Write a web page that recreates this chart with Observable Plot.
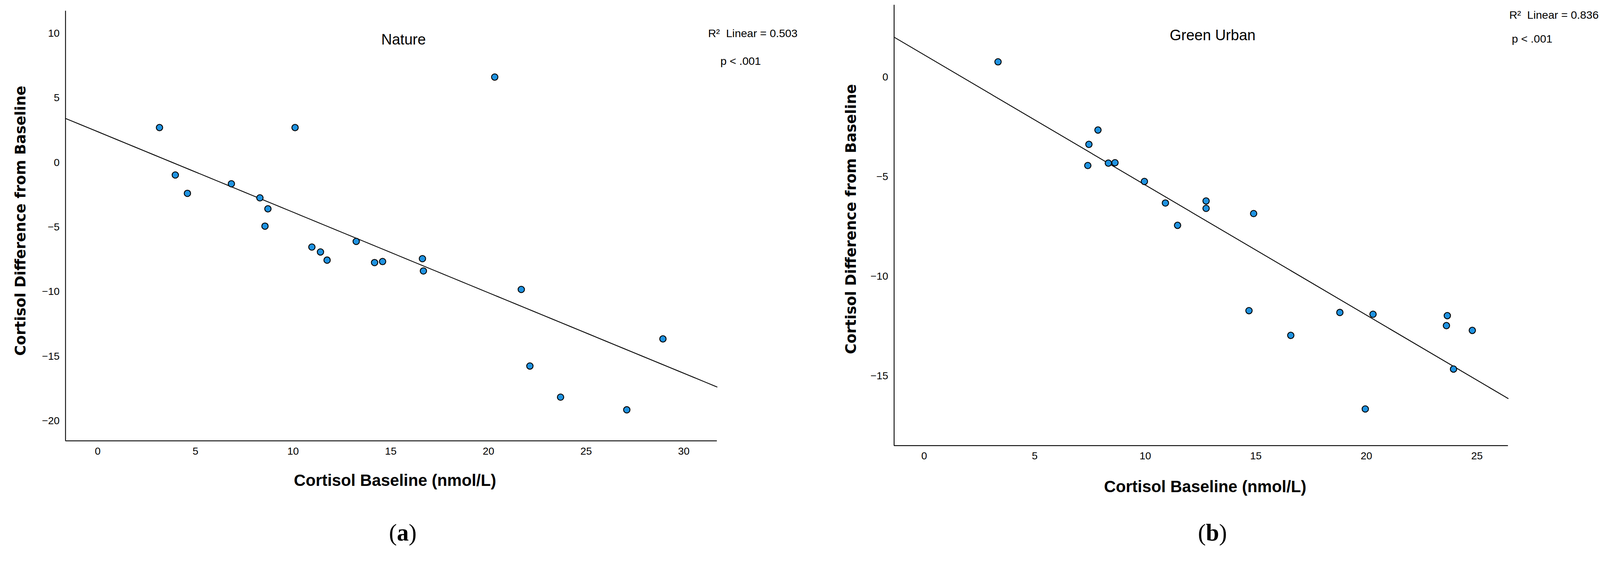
<!DOCTYPE html>
<html>
<head>
<meta charset="utf-8">
<script src="https://cdn.jsdelivr.net/npm/d3@7"></script>
<script src="https://cdn.jsdelivr.net/npm/@observablehq/plot@0.6"></script>
<style>
  html, body { margin: 0; padding: 0; background: #fff; overflow: hidden; }
  #wrap { position: relative; width: 4310px; height: 1490px; background: #fff; overflow: hidden; transform-origin: 0 0; }
  .panel { position: absolute; top: 0; width: 2155px; height: 1490px; }
  .panel svg { display: block; overflow: visible; max-width: none !important; }
  .cap { position: absolute; font-family: "Liberation Serif", "DejaVu Serif", serif; font-size: 64px; line-height: 1; transform: translate(-50%, -50%); white-space: nowrap; }
</style>
</head>
<body>
<div id="wrap">
  <div class="panel" id="pa"></div>
  <div class="panel" id="pb" style="left:2155px"></div>
</div>
<script>
// ---- Data ----
const natureBaseline = [3.16, 3.97, 4.59, 6.84, 8.30, 8.71, 8.56, 10.10, 10.96, 11.40, 11.74, 13.23, 14.17, 14.58, 16.62, 16.67, 20.32, 21.68, 22.12, 23.69, 27.08, 28.93];
const natureDiff     = [2.71, -0.96, -2.38, -1.64, -2.73, -3.58, -4.92, 2.71, -6.54, -6.92, -7.55, -6.10, -7.74, -7.66, -7.44, -8.39, 6.62, -9.82, -15.75, -18.16, -19.14, -13.65];

const greenBaseline = [3.34, 7.86, 7.45, 7.40, 8.33, 8.63, 9.96, 10.91, 12.75, 12.75, 11.46, 14.90, 14.69, 16.58, 18.80, 20.30, 19.95, 23.66, 23.62, 24.79, 23.94];
const greenDiff     = [0.76, -2.66, -3.38, -4.44, -4.32, -4.30, -5.24, -6.32, -6.22, -6.59, -7.44, -6.85, -11.72, -12.96, -11.81, -11.90, -16.65, -11.97, -12.47, -12.71, -14.65];

const natureXTicks = [0, 5, 10, 15, 20, 25, 30];
const natureYTicks = [-20, -15, -10, -5, 0, 5, 10];
const greenXTicks  = [0, 5, 10, 15, 20, 25];
const greenYTicks  = [-15, -10, -5, 0];

const natureXDomain = [-1.65, 31.7];
const natureYDomain = [-21.54, 11.74];
const greenXDomain  = [-1.36, 26.41];
const greenYDomain  = [-18.49, 3.61];

const panelTitles = ["Nature", "Green Urban"];
const r2Labels    = ["R\u00B2  Linear = 0.503", "R\u00B2  Linear = 0.836"];
const pLabels     = ["p < .001", "p < .001"];
const captions    = ["a", "b"];
const xLabel = "Cortisol Baseline (nmol/L)";
const yLabel = "Cortisol Difference from Baseline";

// ---- helpers ----
const fmt = d => d < 0 ? "\u2212" + Math.abs(d) : String(d);
function fit(xs, ys) {
  const mx = d3.mean(xs), my = d3.mean(ys);
  let sxy = 0, sxx = 0;
  xs.forEach((x, i) => { sxy += (x - mx) * (ys[i] - my); sxx += (x - mx) ** 2; });
  const b = sxy / sxx, a = my - b * mx;
  return {a, b};
}

function panel(cfg) {
  const pts = cfg.xs.map((x, i) => ({x, y: cfg.ys[i]}));
  const {a, b} = fit(cfg.xs, cfg.ys);
  const linePts = cfg.xDomain.map(x => ({x, y: a + b * x}));
  const sans = "'Liberation Sans', Arial, sans-serif";
  return Plot.plot({
    width: 2155,
    height: 1370,
    marginLeft: cfg.ml, marginRight: cfg.mr, marginTop: cfg.mt, marginBottom: 1370 - cfg.bottom,
    style: {background: "#fff", fontFamily: sans, color: "#000", overflow: "visible"},
    x: {domain: cfg.xDomain, label: null},
    y: {domain: cfg.yDomain, label: null},
    marks: [
      Plot.axisX(cfg.xTicks, {tickSize: 0, tickPadding: 17, fontSize: 28, tickFormat: fmt, label: null, fill: "#000"}),
      Plot.axisY(cfg.yTicks, {tickSize: 0, tickPadding: 16, fontSize: 28, tickFormat: fmt, label: null, fill: "#000"}),
      Plot.ruleX([cfg.xDomain[0]], {stroke: "#000", strokeWidth: 2.3}),
      Plot.ruleY([cfg.yDomain[0]], {stroke: "#000", strokeWidth: 2.3}),
      Plot.line(linePts, {x: "x", y: "y", stroke: "#000", strokeWidth: 2.3}),
      Plot.dot(pts, {x: "x", y: "y", r: 8.6, fill: "#1f93e1", stroke: "#000", strokeWidth: 2.4}),
      Plot.text([cfg.title], {text: d => d, frameAnchor: "top", dx: cfg.titleDx, dy: cfg.titleDy, fontSize: 40, lineAnchor: "middle", fill: "#000"}),
      Plot.text([cfg.r2], {text: d => d, frameAnchor: "top-right", textAnchor: "start", dx: cfg.r2Dx, dy: cfg.r2Dy, fontSize: 30, lineAnchor: "middle", fill: "#000"}),
      Plot.text([cfg.p], {text: d => d, frameAnchor: "top-right", textAnchor: "start", dx: cfg.pDx, dy: cfg.pDy, fontSize: 30, lineAnchor: "middle", fill: "#000"}),
      Plot.text([xLabel], {text: d => d, frameAnchor: "bottom", dx: cfg.xlDx, dy: cfg.xlDy, fontSize: 44, fontWeight: "bold", lineAnchor: "middle", fill: "#000"}),
      Plot.text([yLabel], {text: d => d, frameAnchor: "left", rotate: -90, dx: cfg.ylDx, dy: cfg.ylDy, fontSize: 39, fontWeight: "bold", fontFamily: "'DejaVu Sans', sans-serif", lineAnchor: "middle", textAnchor: "middle", fill: "#000"})
    ]
  });
}

const pa = panel({
  xs: natureBaseline, ys: natureDiff, xDomain: natureXDomain, yDomain: natureYDomain,
  xTicks: natureXTicks, yTicks: natureYTicks,
  ml: 176, mr: 2155 - 1931, mt: 29, bottom: 1187,
  title: panelTitles[0], titleDx: 33, titleDy: 78,
  r2: r2Labels[0], r2Dx: -24, r2Dy: 61,
  p: pLabels[0], pDx: 9, pDy: 136,
  xlDx: 10, xlDy: 107,
  ylDx: -121, ylDy: -14
});
const pb = panel({
  xs: greenBaseline, ys: greenDiff, xDomain: greenXDomain, yDomain: greenYDomain,
  xTicks: greenXTicks, yTicks: greenYTicks,
  ml: 253, mr: 248, mt: 13, bottom: 1200,
  title: panelTitles[1], titleDx: 31, titleDy: 82,
  r2: r2Labels[1], r2Dx: 3, r2Dy: 27,
  p: pLabels[1], pDx: 10, pDy: 92,
  xlDx: 11, xlDy: 111,
  ylDx: -116, ylDy: -17
});
document.getElementById("pa").appendChild(pa);
document.getElementById("pb").appendChild(pb);

const capPos = [[1085, 1435], [3266 - 2155, 1435]];
["pa", "pb"].forEach((id, i) => {
  const c = document.createElement("div");
  c.className = "cap";
  c.style.left = capPos[i][0] + "px";
  c.style.top = capPos[i][1] + "px";
  c.innerHTML = "(<b>" + captions[i] + "</b>)";
  document.getElementById(id).appendChild(c);
});

// fit the 4310x1490 layout into the actual viewport if it is smaller
function fitView() {
  const w = document.documentElement.clientWidth || window.innerWidth;
  const h = document.documentElement.clientHeight || window.innerHeight;
  const s = Math.min(1, w / 4310, h / 1490);
  document.getElementById("wrap").style.transform = s < 1 ? `scale(${s})` : "";
}
fitView();
window.addEventListener("resize", fitView);
</script>
</body>
</html>
